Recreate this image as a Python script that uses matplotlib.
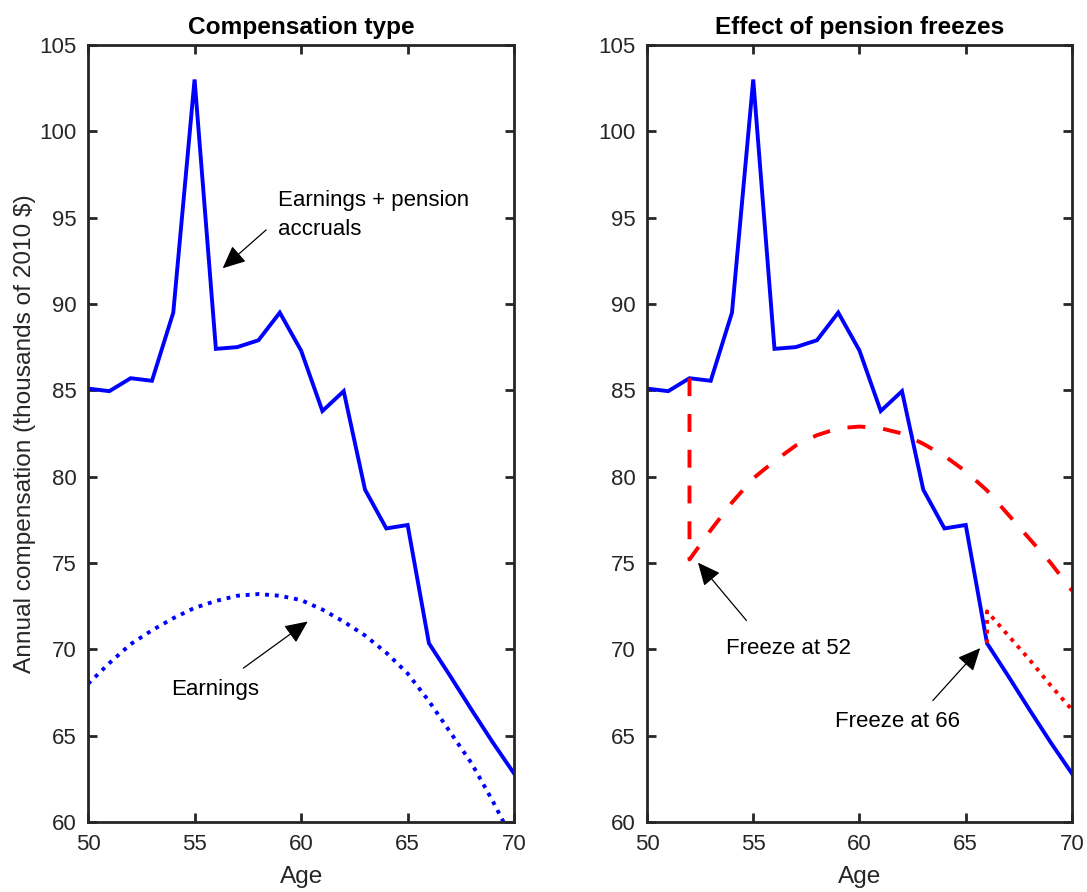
import matplotlib
matplotlib.use("Agg")
import matplotlib.pyplot as plt

plt.rcParams['font.family'] = ['Liberation Sans', 'DejaVu Sans']

# ---- data ----
ages = [50, 51, 52, 53, 54, 55, 56, 57, 58, 59, 60, 61, 62, 63, 64, 65, 66, 67, 68, 69, 70]
total_comp = [85.1, 84.95, 85.7, 85.55, 89.5, 103.0, 87.4, 87.5, 87.9, 89.5, 87.3,
              83.8, 84.95, 79.25, 77.0, 77.2, 70.35, 68.45, 66.5, 64.6, 62.8]
earnings = [68.0, 69.2, 70.3, 71.1, 71.8, 72.4, 72.8, 73.1, 73.2, 73.1, 72.85,
            72.3, 71.6, 70.8, 69.8, 68.6, 67.0, 65.2, 63.4, 61.2, 58.8]

freeze52_ages = [52, 52, 53, 54, 55, 56, 57, 58, 59, 60, 61, 62, 63, 64, 65, 66, 67, 68, 69, 70]
freeze52_vals = [85.7, 75.2, 76.9, 78.5, 79.9, 80.9, 81.8, 82.4, 82.8, 82.9, 82.8,
                 82.5, 81.9, 81.2, 80.3, 79.2, 77.8, 76.4, 75.0, 73.4]

freeze66_ages = [66, 66, 67, 68, 69, 70]
freeze66_vals = [70.35, 72.2, 70.8, 69.4, 67.9, 66.5]

x_ticks = [50, 55, 60, 65, 70]
y_ticks = [60, 65, 70, 75, 80, 85, 90, 95, 100, 105]
titles = ["Compensation type", "Effect of pension freezes"]

# ---- figure ----
fig = plt.figure(figsize=(10.87, 8.92), dpi=100)
ax1 = fig.add_axes([0.081, 0.0785, 0.392, 0.8711])
ax2 = fig.add_axes([0.5952, 0.0785, 0.391, 0.8711])

axc = (0.15, 0.15, 0.15)
LW = 2.8
FS = 16
LFS = 17.6

def style(ax, title):
    ax.set_xlim(50, 70)
    ax.set_ylim(60, 105)
    ax.set_xticks(x_ticks)
    ax.set_yticks(y_ticks)
    for s in ax.spines.values():
        s.set_color(axc)
        s.set_linewidth(2.0)
    ax.tick_params(direction='in', length=6.5, width=2.0, colors=axc,
                   labelsize=FS, top=True, right=True)
    ax.tick_params(axis='x', pad=8.5)
    ax.tick_params(axis='y', pad=8)
    for lab in ax.get_xticklabels() + ax.get_yticklabels():
        lab.set_color(axc)
    ax.set_xlabel("Age", fontsize=LFS, color=axc, labelpad=8)
    ax.set_title(title, fontsize=LFS, fontweight='bold', pad=8)

ap = dict(arrowstyle='-|>,head_length=0.7,head_width=0.32', mutation_scale=20,
          lw=0.9, color='k', shrinkA=0, shrinkB=0)

dotted = (0, (1, 1.5))
dashed = (0, (4.6, 4.6))

# left panel
ax1.plot(ages, total_comp, color=(0, 0, 1), lw=LW, solid_joinstyle='miter')
ax1.plot(ages, earnings, color=(0, 0, 1), lw=LW, linestyle=dotted)
style(ax1, titles[0])
ax1.set_ylabel("Annual compensation (thousands of 2010 $)", fontsize=LFS, color=axc, labelpad=3)
ax1.annotate("", xy=(56.32, 92.07), xytext=(58.36, 94.29), arrowprops=ap)
ax1.text(58.92, 95.15, "Earnings + pension\naccruals", fontsize=FS, ha='left', va='center',
         linespacing=1.45)
ax1.annotate("", xy=(60.31, 71.61), xytext=(57.29, 68.91), arrowprops=ap)
ax1.text(55.96, 67.65, "Earnings", fontsize=FS, ha='center', va='center')

# right panel
ax2.plot(ages, total_comp, color=(0, 0, 1), lw=LW, solid_joinstyle='miter')
ax2.plot(freeze52_ages, freeze52_vals, color=(1, 0, 0), lw=LW, linestyle=dashed)
ax2.plot(freeze66_ages, freeze66_vals, color=(1, 0, 0), lw=LW, linestyle=dotted)
style(ax2, titles[1])
ax2.annotate("", xy=(52.4, 75.02), xytext=(54.68, 71.67), arrowprops=ap)
ax2.text(56.67, 70.07, "Freeze at 52", fontsize=FS, ha='center', va='center')
ax2.annotate("", xy=(65.68, 70.07), xytext=(63.45, 67.03), arrowprops=ap)
ax2.text(61.81, 65.82, "Freeze at 66", fontsize=FS, ha='center', va='center')

fig.savefig("out.png", dpi=100)
